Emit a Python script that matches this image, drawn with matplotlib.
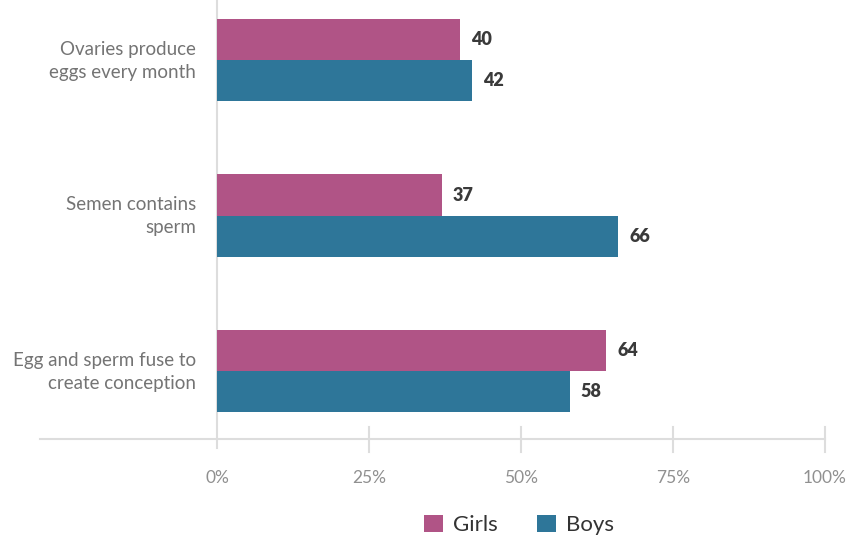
import matplotlib
matplotlib.use("Agg")
import matplotlib.pyplot as plt
from matplotlib.patches import Patch
from matplotlib.lines import Line2D
import numpy as np

categories = ["Ovaries produce\neggs every month", "Semen contains\nsperm", "Egg and sperm fuse to\ncreate conception"]
girls = [40, 37, 64]
boys = [42, 66, 58]
series_names = ["Girls", "Boys"]
xticks = [0, 25, 50, 75, 100]
xtick_labels = ["0%", "25%", "50%", "75%", "100%"]

c_girls = "#B05486"
c_boys = "#2E7699"
grid_c = "#DDDDDD"

plt.rcParams['font.family'] = ['Lato', 'DejaVu Sans']

fig = plt.figure(figsize=(8.56, 5.41), dpi=100)
ax = fig.add_axes([217/856, 1-439/541, 608/856, 439/541])

y = np.arange(len(categories))
h = 0.264
ax.barh(y - h/2, girls, height=h, color=c_girls, zorder=3)
ax.barh(y + h/2, boys, height=h, color=c_boys, zorder=3)

for yi, v in zip(y, girls):
    ax.text(v + 1.8, yi - h/2, f"{v}", va="center", ha="left", fontsize=13, fontweight="heavy", color="#3a3a3a")
for yi, v in zip(y, boys):
    ax.text(v + 1.8, yi + h/2, f"{v}", va="center", ha="left", fontsize=13, fontweight="heavy", color="#3a3a3a")

ax.set_xlim(0, 100)
ax.set_ylim(2.437, -0.386)

for s in ax.spines.values():
    s.set_visible(False)

ax.set_yticks(y - 0.025)
ax.set_yticklabels(categories, fontsize=13.5, fontweight="normal", color="#747474", linespacing=1.45)
for t in ax.get_yticklabels():
    t.set_multialignment("right")
ax.tick_params(axis="y", length=0, pad=15)

ax.set_xticks(xticks)
ax.set_xticklabels(xtick_labels, fontsize=12.5, fontweight="normal", color="#909090")
ax.tick_params(axis="x", length=0, pad=22)

trans = ax.get_xaxis_transform()
# baseline
ax.add_line(Line2D([-0.291, 1.0], [0, 0], transform=ax.transAxes, color=grid_c, lw=1.5, clip_on=False, zorder=1))
# zero line
ax.add_line(Line2D([0, 0], [-9/439, 1.0], transform=ax.transAxes, color=grid_c, lw=1.5, clip_on=False, zorder=2))
# tick marks
for xt in xticks[1:]:
    ax.add_line(Line2D([xt, xt], [-13/439, 12/439], transform=trans, color=grid_c, lw=1.5, clip_on=False, zorder=1))

handles = [Patch(facecolor=c_girls, edgecolor="none"), Patch(facecolor=c_boys, edgecolor="none")]
leg = fig.legend(handles, series_names, loc="center", bbox_to_anchor=(519/856, 1-525/541), ncol=2,
                 frameon=False, fontsize=16, handlelength=0.85, handleheight=0.85, handletextpad=0.45,
                 columnspacing=1.8)
for t in leg.get_texts():
    t.set_color("#333333")
    t.set_fontweight("normal")

fig.savefig("out.png", dpi=100)
